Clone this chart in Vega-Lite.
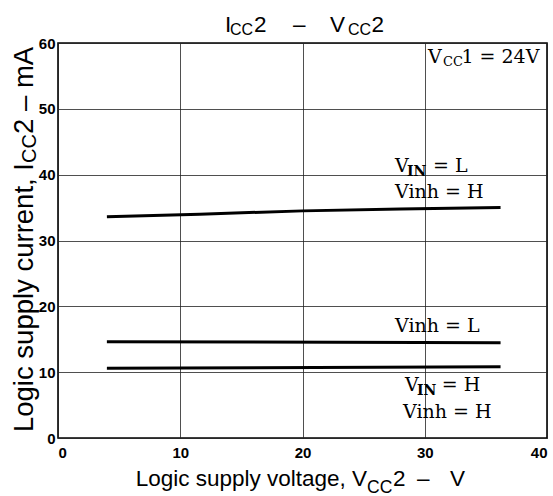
{
  "$schema": "https://vega.github.io/schema/vega-lite/v6.json",
  "width": 489,
  "height": 395,
  "autosize": {"type": "none"},
  "padding": {"left": 58, "top": 43, "right": 6, "bottom": 58},
  "background": "white",
  "config": {
    "view": {"stroke": "black", "strokeWidth": 1.6},
    "axis": {"gridColor": "#222", "gridWidth": 0.8, "gridOpacity": 1, "domain": false, "ticks": false,
             "labelFont": "Liberation Sans", "labelFontWeight": "bold", "labelFontSize": 15, "labelColor": "black"}
  },
  "datasets": {
    "curves": [
      {"series": "VIN=L Vinh=H", "v": 4.0, "i": 33.6},
      {"series": "VIN=L Vinh=H", "v": 11.6, "i": 34.0},
      {"series": "VIN=L Vinh=H", "v": 20.0, "i": 34.5},
      {"series": "VIN=L Vinh=H", "v": 28.0, "i": 34.8},
      {"series": "VIN=L Vinh=H", "v": 36.2, "i": 35.0},
      {"series": "Vinh=L", "v": 4.0, "i": 14.63},
      {"series": "Vinh=L", "v": 36.2, "i": 14.48},
      {"series": "VIN=H Vinh=H", "v": 4.0, "i": 10.6},
      {"series": "VIN=H Vinh=H", "v": 36.2, "i": 10.83}
    ],
    "serif": [
      {"x": 30.27, "y": 57.0, "t": "V"},
      {"x": 33.0, "y": 57.0, "t": "1 = 24V"},
      {"x": 27.57, "y": 40.45, "t": "V"},
      {"x": 30.67, "y": 40.45, "t": "= L"},
      {"x": 27.57, "y": 36.4, "t": "Vinh = H"},
      {"x": 27.57, "y": 16.15, "t": "Vinh = L"},
      {"x": 28.38, "y": 7.14, "t": "V"},
      {"x": 31.4, "y": 7.14, "t": "= H"},
      {"x": 28.22, "y": 3.04, "t": "Vinh = H"}
    ],
    "serifSubCC": [
      {"x": 31.49, "y": 56.5, "t": "CC"}
    ],
    "serifSubIN": [
      {"x": 28.55, "y": 39.8, "t": "IN"},
      {"x": 29.37, "y": 6.53, "t": "IN"}
    ],
    "sans": [
      {"x": 13.66, "y": 61.63, "t": "I"},
      {"x": 16.03, "y": 61.63, "t": "2"},
      {"x": 19.23, "y": 61.63, "t": "–"},
      {"x": 22.25, "y": 61.63, "t": "V"},
      {"x": 25.65, "y": 61.63, "t": "2"},
      {"x": 27.40, "y": -7.29, "t": "2"},
      {"x": 29.37, "y": -7.29, "t": "–"},
      {"x": 32.07, "y": -7.29, "t": "V"}
    ],
    "sansRight": [
      {"x": 25.28, "y": -7.29, "t": "Logic supply voltage, V"}
    ],
    "titleSub": [
      {"x": 14.07, "y": 61.29, "t": "CC"},
      {"x": 23.72, "y": 61.29, "t": "CC"}
    ],
    "sansSub": [
      {"x": 25.28, "y": -8.35, "t": "CC"}
    ],
    "yTitleRight": [
      {"x": -2.045, "y": 41.77, "t": "Logic supply current, I"}
    ],
    "yTitle": [
      {"x": -2.045, "y": 46.18, "t": "2 – mA"}
    ],
    "yTitleSub": [
      {"x": -1.80, "y": 41.77, "t": "CC"}
    ]
  },
  "layer": [
    {
      "data": {"name": "curves"},
      "mark": {"type": "line", "color": "black", "strokeWidth": 3},
      "encoding": {
        "x": {"field": "v", "type": "quantitative",
              "scale": {"domain": [0, 40], "nice": false},
              "axis": {"values": [0, 10, 20, 30, 40], "title": null, "labelFlush": true, "labelPadding": 7}},
        "y": {"field": "i", "type": "quantitative",
              "scale": {"domain": [0, 60], "nice": false},
              "axis": {"values": [0, 10, 20, 30, 40, 50, 60], "title": null, "labelPadding": 3}},
        "detail": {"field": "series"}
      }
    },
    {
      "data": {"name": "serif"},
      "mark": {"type": "text", "font": "DejaVu Serif", "fontSize": 19, "align": "left", "baseline": "alphabetic", "color": "black"},
      "encoding": {
        "x": {"field": "x", "type": "quantitative"},
        "y": {"field": "y", "type": "quantitative"},
        "text": {"field": "t"}
      }
    },
    {
      "data": {"name": "serifSubCC"},
      "mark": {"type": "text", "font": "DejaVu Serif", "fontSize": 13, "align": "left", "baseline": "alphabetic", "color": "black"},
      "encoding": {
        "x": {"field": "x", "type": "quantitative"},
        "y": {"field": "y", "type": "quantitative"},
        "text": {"field": "t"}
      }
    },
    {
      "data": {"name": "serifSubIN"},
      "mark": {"type": "text", "font": "DejaVu Serif", "fontSize": 14, "fontWeight": "bold", "align": "left", "baseline": "alphabetic", "color": "black"},
      "encoding": {
        "x": {"field": "x", "type": "quantitative"},
        "y": {"field": "y", "type": "quantitative"},
        "text": {"field": "t"}
      }
    },
    {
      "data": {"name": "sans"},
      "mark": {"type": "text", "font": "Liberation Sans", "fontSize": 22.5, "align": "left", "baseline": "alphabetic", "color": "black"},
      "encoding": {
        "x": {"field": "x", "type": "quantitative"},
        "y": {"field": "y", "type": "quantitative"},
        "text": {"field": "t"}
      }
    },
    {
      "data": {"name": "sansRight"},
      "mark": {"type": "text", "font": "Liberation Sans", "fontSize": 22.5, "align": "right", "baseline": "alphabetic", "color": "black"},
      "encoding": {
        "x": {"field": "x", "type": "quantitative"},
        "y": {"field": "y", "type": "quantitative"},
        "text": {"field": "t"}
      }
    },
    {
      "data": {"name": "titleSub"},
      "mark": {"type": "text", "font": "Liberation Sans", "fontSize": 16, "align": "left", "baseline": "alphabetic", "color": "black"},
      "encoding": {
        "x": {"field": "x", "type": "quantitative"},
        "y": {"field": "y", "type": "quantitative"},
        "text": {"field": "t"}
      }
    },
    {
      "data": {"name": "sansSub"},
      "mark": {"type": "text", "font": "Liberation Sans", "fontSize": 17.5, "align": "left", "baseline": "alphabetic", "color": "black"},
      "encoding": {
        "x": {"field": "x", "type": "quantitative"},
        "y": {"field": "y", "type": "quantitative"},
        "text": {"field": "t"}
      }
    },
    {
      "data": {"name": "yTitleRight"},
      "mark": {"type": "text", "font": "Liberation Sans", "fontSize": 27.5, "align": "right", "baseline": "alphabetic", "angle": 270, "color": "black"},
      "encoding": {
        "x": {"field": "x", "type": "quantitative"},
        "y": {"field": "y", "type": "quantitative"},
        "text": {"field": "t"}
      }
    },
    {
      "data": {"name": "yTitle"},
      "mark": {"type": "text", "font": "Liberation Sans", "fontSize": 27.5, "align": "left", "baseline": "alphabetic", "angle": 270, "color": "black"},
      "encoding": {
        "x": {"field": "x", "type": "quantitative"},
        "y": {"field": "y", "type": "quantitative"},
        "text": {"field": "t"}
      }
    },
    {
      "data": {"name": "yTitleSub"},
      "mark": {"type": "text", "font": "Liberation Sans", "fontSize": 20, "align": "left", "baseline": "alphabetic", "angle": 270, "color": "black"},
      "encoding": {
        "x": {"field": "x", "type": "quantitative"},
        "y": {"field": "y", "type": "quantitative"},
        "text": {"field": "t"}
      }
    }
  ]
}
